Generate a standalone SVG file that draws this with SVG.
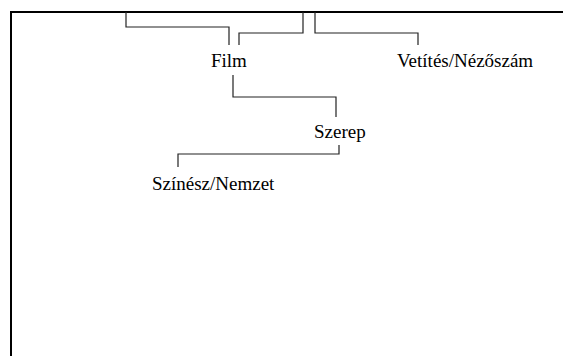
<svg xmlns="http://www.w3.org/2000/svg" width="563" height="356" viewBox="0 0 563 356">
<style>
text{font-family:'Liberation Serif','DejaVu Serif','Times New Roman',serif;font-size:19px;fill:#000}
.c{fill:none;stroke:#222;stroke-width:1.2}
.b{fill:none;stroke:#000;stroke-width:2}
</style>
<rect width="563" height="356" fill="#fff"/>
<path class="b" d="M11,356 V12 H563"/>
<g id="connectors">
<path class="c" d="M126,12 V27 H229 V45"/>
<path class="c" d="M239,45 V33 H303 V12"/>
<path class="c" d="M315,12 V33 H418 V45"/>
<path class="c" d="M233,75 V97 H336 V117"/>
<path class="c" d="M339,145 V154 H178 V167"/>
</g>
<g id="film"><text font-family="Liberation Serif, serif" x="211" y="66.5">Film</text></g>
<g id="vetites"><text font-family="Liberation Serif, serif" x="397" y="66.5">Vetítés/Nézőszám</text></g>
<g id="szerep"><text font-family="Liberation Serif, serif" x="314" y="137.5">Szerep</text></g>
<g id="szinesz"><text font-family="Liberation Serif, serif" x="152" y="190">Színész/Nemzet</text></g>
</svg>
